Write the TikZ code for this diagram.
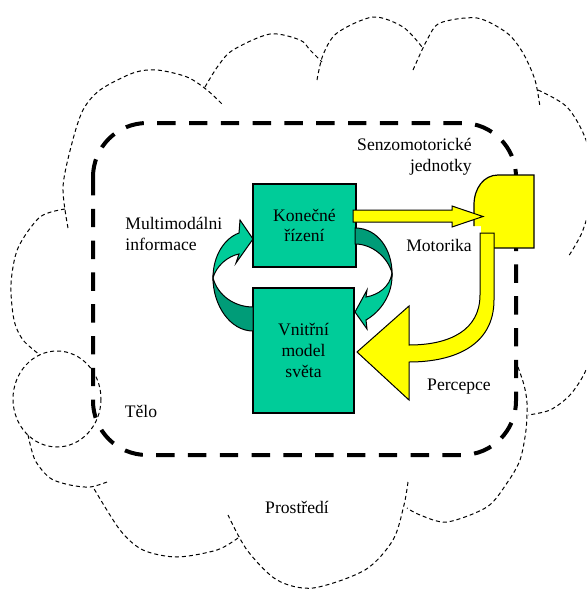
\documentclass[tikz,border=0pt]{standalone}
\usepackage{fontspec}
\setmainfont{Liberation Serif}
\usetikzlibrary{positioning}

\definecolor{zelena}{HTML}{00CC99}
\definecolor{tmavozelena}{HTML}{009C78}
\definecolor{zluta}{HTML}{FFFF00}

\begin{document}
\begin{tikzpicture}[x=0.5pt,y=-0.5pt,font=\fontsize{8.8}{10.3}\selectfont,
        oblak/.style={dash pattern=on 2pt off 1.5pt,line width=0.5pt},
        telo/.style={dash pattern=on 9.2pt off 6.7pt,line width=2pt,rounded corners=27pt},
        blok/.style={draw,fill=zelena,inner sep=0pt,align=center,line width=0.6pt},
        sipka/.style={draw,line width=0.5pt,line join=miter},
        popis/.style={inner sep=0pt}]
        \useasboundingbox (0,0) rectangle (586,590);

        % prostredi
        \begin{scope}
        \clip (0,0) rectangle (586,590);
        \draw[oblak] plot[smooth] coordinates {(68,228) (63,187) (72,143) (83,110) (100,90) (133,73) (157,70) (187,77) (207,90) (223,105)};
        \draw[oblak] plot[smooth] coordinates {(205,87) (218,66) (233,50) (270,34) (300,40) (310,50) (322,62)};
        \draw[oblak] plot[smooth] coordinates {(317,80) (323,55) (337,33) (373,17) (403,27) (422,47)};
        \draw[oblak] plot[smooth] coordinates {(413,70) (427,40) (440,23) (477,18) (507,33) (523,53) (535,80) (540,107)};
        \draw[oblak] plot[smooth] coordinates {(538,90) (567,107) (586,140) (594,185) (583,230) (568,257)};
        \draw[oblak] plot[smooth] coordinates {(598,330) (586,370) (570,395) (550,410) (528,415)};
        \draw[oblak] plot[smooth] coordinates {(518,367) (524,385) (527,403) (526,430) (520,460) (507,483) (487,507) (447,522) (420,515) (407,508)};
        \draw[oblak] plot[smooth] coordinates {(408,482) (404,505) (393,540) (365,570) (313,588) (277,580) (247,550) (228,515)};
        \draw[oblak] plot[smooth] coordinates {(238,538) (217,550) (177,557) (143,550) (120,530) (93,487)};
        \draw[oblak] plot[smooth] coordinates {(107,482) (90,487) (70,485) (50,478) (35,460) (28,435)};
        \draw[oblak] plot[smooth] coordinates {(65,209) (40,217) (18,248) (11,284) (14,320) (23,340) (40,355)};
        \draw[oblak] (57,399) ellipse [x radius=44, y radius=48];
        \end{scope}

        % telo
        \draw[telo] (93,123) rectangle (516,455);

        % senzomotoricka jednotka
        \fill[zluta] (534,175) -- (498,175) .. controls (484,175) and (474,188) .. (474,205)
            -- (474,226) -- (481,226) -- (481,248) -- (534,248) -- cycle;
        \draw[line width=0.6pt] (474,226) -- (474,205) .. controls (474,188) and (484,175) .. (498,175)
            -- (534,175) -- (534,248) -- (494,248);

        \node[blok,minimum width=51.5pt,minimum height=41.5pt] (rizeni) at (304.5,225.5) {Konečné\\řízení};
        \node[blok,minimum width=50.5pt,minimum height=62.5pt] (model) at (303.5,350.5) {Vnitřní\\model\\světa};

        % smycka
        \draw[sipka,fill=tmavozelena] (253,331) .. controls (230,331) and (213,305) .. (213,278)
            .. controls (218,296) and (235,307) .. (253,307) -- cycle;
        \draw[sipka,fill=zelena] (213,278) .. controls (213,255) and (225,238) .. (239,233)
            -- (240,220) -- (253,239) -- (236,263) -- (239,254)
            .. controls (228,256) and (216,266) .. (213,278) -- cycle;
        \draw[sipka,fill=tmavozelena] (355,228) .. controls (378,228) and (392,250) .. (392,273)
            .. controls (388,258) and (373,244) .. (355,244) -- cycle;
        \draw[sipka,fill=zelena] (392,273) .. controls (393,295) and (380,312) .. (366,320)
            -- (367,329) -- (355,312) -- (367,290) -- (366,297)
            .. controls (378,295) and (390,287) .. (392,273) -- cycle;

        % motorika a percepce
        \draw[sipka,fill=zluta] (353,210) -- (452,210) -- (452,206) -- (483,216.5)
            -- (452,227) -- (452,222) -- (353,222) -- cycle;
        \draw[sipka,fill=zluta] (480,233) -- (494,233) -- (494,300)
            .. controls (494,345) and (455,362) .. (409,362) -- (409,400) -- (357,352)
            -- (409,306) -- (409,345) .. controls (450,345) and (480,330) .. (480,295) -- cycle;

        \node[popis,align=right,anchor=east] (senzo) at (472,157) {Senzomotorické\\jednotky};
        \node[popis,align=left,anchor=west] (multi) at (125,234) {Multimodálni\\informace};
        \node[popis] (motorika) at (439,245) {Motorika};
        \node[popis] (percepce) at (459,387) {Percepce};
        \node[popis] (telonapis) at (141,411) {Tělo};
        \node[popis] (prostredi) at (297,507) {Prostředí};
\end{tikzpicture}
\end{document}
